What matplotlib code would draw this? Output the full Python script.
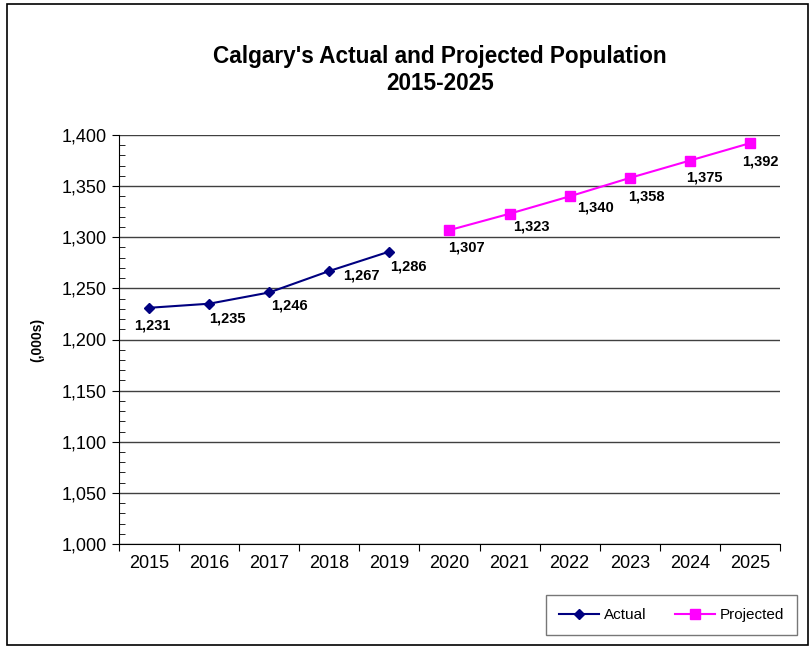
import matplotlib
matplotlib.use('Agg')
import matplotlib.pyplot as plt
from matplotlib.patches import Rectangle
from matplotlib.ticker import MultipleLocator, FuncFormatter, FixedLocator
import numpy as np

plt.rcParams['font.family'] = ['Liberation Sans', 'DejaVu Sans']

YEARS = ['2015', '2016', '2017', '2018', '2019', '2020',
         '2021', '2022', '2023', '2024', '2025']
ACTUAL_YEARS = YEARS[:5]
ACTUAL = [1231, 1235, 1246, 1267, 1286]
PROJ_YEARS = YEARS[5:]
PROJECTED = [1307, 1323, 1340, 1358, 1375, 1392]

# label placement (pixels right / down of each point), as in the original
LABEL_OFFSETS = [(3, 18), (18, 15), (20, 13), (32, 5), (19, 15),
                 (17, 17), (22, 13), (26, 11), (17, 19), (15, 17), (10, 18)]

W, H = 812, 649
fig = plt.figure(figsize=(W / 100, H / 100), dpi=100)

# outer frame
fig.patches.append(Rectangle((7 / W, 4 / H), (808 - 7) / W, (645 - 4) / H,
                             transform=fig.transFigure, fill=False,
                             edgecolor='black', linewidth=1.2))

ax = fig.add_axes([119 / W, 1 - 544 / H, (780 - 119) / W, (544 - 135) / H])

xa = [YEARS.index(y) for y in ACTUAL_YEARS]
xp = [YEARS.index(y) for y in PROJ_YEARS]

ax.plot(xa, ACTUAL, color='#000080', linewidth=1.5, marker='D',
        markersize=5.5, label='Actual', zorder=3)
ax.plot(xp, PROJECTED, color='#FF00FF', linewidth=1.5, marker='s',
        markersize=7, label='Projected', zorder=3)

pts = list(zip(xa, ACTUAL)) + list(zip(xp, PROJECTED))
for (x, v), (dx, dy) in zip(pts, LABEL_OFFSETS):
    ax.annotate(f'{v:,}', (x, v), xytext=(dx, -dy), textcoords='offset pixels',
                ha='center', va='center', fontsize=10.5, fontweight='bold')

ax.set_xlim(-0.5, 10.5)
ax.set_ylim(1000, 1400)

# y axis
ax.yaxis.set_major_locator(MultipleLocator(50))
ax.yaxis.set_minor_locator(MultipleLocator(10))
ax.yaxis.set_major_formatter(FuncFormatter(lambda v, p: f'{int(v):,}'))
ax.tick_params(axis='y', which='major', direction='out', length=5,
               labelsize=13, pad=4)
ax.tick_params(axis='y', which='minor', direction='in', length=4)
ax.grid(axis='y', which='major', color='#404040', linewidth=1)

# x axis: ticks between categories, labels at centres
ax.xaxis.set_major_locator(FixedLocator(np.arange(-0.5, 11, 1)))
ax.xaxis.set_major_formatter(FuncFormatter(lambda v, p: ''))
ax.xaxis.set_minor_locator(FixedLocator(range(len(YEARS))))
ax.set_xticklabels(YEARS, minor=True)
ax.tick_params(axis='x', which='major', direction='out', length=5)
ax.tick_params(axis='x', which='minor', length=0, labelsize=13, pad=8)

for s in ('top', 'right'):
    ax.spines[s].set_visible(False)
ax.set_axisbelow(True)

ax.set_ylabel('(,000s)', fontsize=10, fontweight='bold', labelpad=12)

fig.text(440 / W, 1 - 70 / H,
         "Calgary's Actual and Projected Population\n2015-2025",
         ha='center', va='center', fontsize=16.3, fontweight='bold',
         linespacing=1.2)

leg = fig.legend(loc='center', bbox_to_anchor=(671.5 / W, 1 - 615 / H),
                 ncol=2, fancybox=False, edgecolor='#555555', fontsize=11,
                 handlelength=2.6, handletextpad=0.3, columnspacing=1.9,
                 borderpad=0.85)
leg.get_frame().set_linewidth(1)

fig.savefig('out.png', dpi=100)
